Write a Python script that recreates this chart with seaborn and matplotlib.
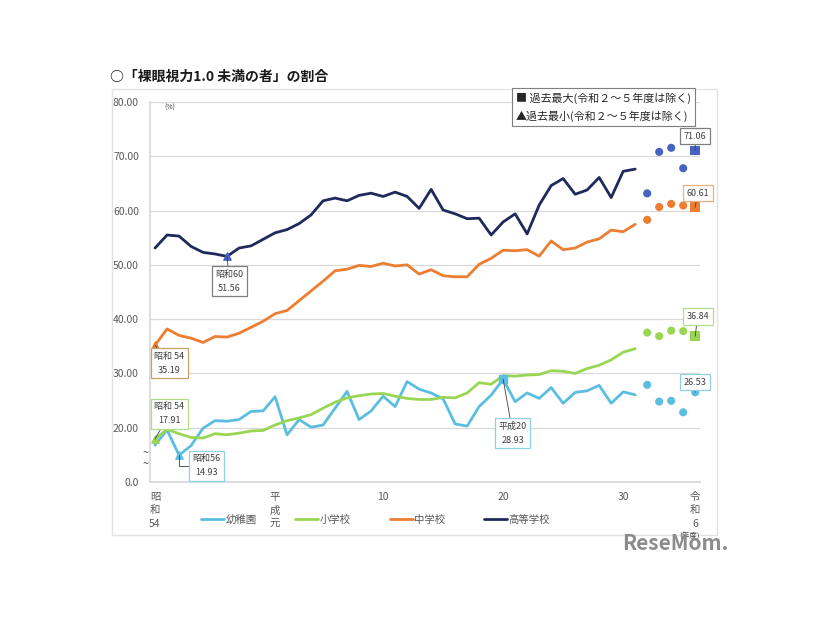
import seaborn as sns
import matplotlib.pyplot as plt
import pandas as pd
from matplotlib.patches import Rectangle

# 裸眼視力1.0未満の者の割合 (%)  昭和54(1979) ~ 令和元(2019)
years = list(range(1979, 2020))
kinder = [16.8, 19.6, 14.93, 16.7, 19.9, 21.3, 21.2, 21.5, 23.0, 23.1,
          25.7, 18.7, 21.5, 20.1, 20.5, 23.6, 26.7, 21.5, 23.1, 25.8,
          23.9, 28.5, 27.1, 26.4, 25.3, 20.7, 20.3, 23.9, 26.0, 28.93,
          24.8, 26.4, 25.4, 27.4, 24.5, 26.5, 26.8, 27.8, 24.5, 26.6, 26.06]
elem = [17.91, 19.7, 18.9, 18.2, 18.1, 18.9, 18.7, 19.0, 19.4, 19.5,
        20.5, 21.3, 21.8, 22.4, 23.6, 24.7, 25.5, 25.9, 26.2, 26.3,
        25.8, 25.4, 25.2, 25.2, 25.6, 25.5, 26.4, 28.3, 28.0, 29.6,
        29.5, 29.7, 29.8, 30.5, 30.4, 30.0, 30.9, 31.5, 32.5, 33.9, 34.57]
middle = [35.19, 38.2, 37.0, 36.5, 35.7, 36.8, 36.7, 37.4, 38.5, 39.6,
          41.0, 41.6, 43.4, 45.2, 47.0, 48.9, 49.2, 49.9, 49.7, 50.3,
          49.8, 50.0, 48.3, 49.1, 48.0, 47.8, 47.8, 50.1, 51.2, 52.7,
          52.6, 52.8, 51.6, 54.4, 52.8, 53.1, 54.2, 54.8, 56.4, 56.1, 57.47]
high = [53.1, 55.5, 55.3, 53.4, 52.3, 52.0, 51.56, 53.1, 53.5, 54.7,
        55.9, 56.5, 57.6, 59.2, 61.8, 62.3, 61.8, 62.8, 63.2, 62.6,
        63.4, 62.6, 60.4, 63.9, 60.1, 59.4, 58.5, 58.6, 55.5, 57.9,
        59.4, 55.7, 61.0, 64.6, 65.9, 63.0, 63.8, 66.1, 62.4, 67.23, 67.64]

# 令和2(2020) ~ 令和6(2024)
years_r = [2020, 2021, 2022, 2023, 2024]
kinder_r = [27.90, 24.81, 24.95, 22.84, 26.53]
elem_r = [37.52, 36.87, 37.88, 37.79, 36.84]
middle_r = [58.29, 60.66, 61.23, 60.93, 60.61]
high_r = [63.17, 70.81, 71.56, 67.80, 71.06]

schools = ['幼稚園', '小学校', '中学校', '高等学校']
line_colors = {'幼稚園': '#5bbde0', '小学校': '#99d654', '中学校': '#ed7d31', '高等学校': '#1f2a5c'}
dot_colors = {'幼稚園': '#5bbde0', '小学校': '#99d654', '中学校': '#ed7d31', '高等学校': '#4763c2'}

tick_pos = [1979, 1989, 1998, 2008, 2018, 2024]
tick_lab = ['昭\n和\n54', '平\n成\n元', '10', '20', '30', '令\n和\n6']

df = pd.DataFrame({'year': years * 4,
                   'value': kinder + elem + middle + high,
                   'school': sum([[s] * len(years) for s in schools], [])})
df_r = pd.DataFrame({'year': years_r * 4,
                     'value': kinder_r + elem_r + middle_r + high_r,
                     'school': sum([[s] * len(years_r) for s in schools], [])})

sns.set_theme(style='white')
plt.rcParams['font.family'] = ['Noto Sans CJK JP', 'DejaVu Sans']

fig = plt.figure(figsize=(8.26, 6.2), dpi=100)
ax = fig.add_axes([150 / 826, 1 - 482 / 620, 550 / 826, 380 / 620])

sns.lineplot(data=df, x='year', y='value', hue='school', hue_order=schools,
             palette=line_colors, linewidth=2.0, ax=ax)
# 令和2~5年度 (dots)
sns.scatterplot(data=df_r[df_r.year < 2024], x='year', y='value', hue='school',
                palette=dot_colors, s=34, edgecolor='none', legend=False, ax=ax)
# 令和6年度
last = df_r[df_r.year == 2024]
sns.scatterplot(data=last[last.school != '幼稚園'], x='year', y='value', hue='school',
                palette=dot_colors, marker='s', s=48, edgecolor='none', legend=False, ax=ax)
sns.scatterplot(data=last[last.school == '幼稚園'], x='year', y='value', hue='school',
                palette=dot_colors, s=34, edgecolor='none', legend=False, ax=ax)

# minimum / maximum markers on the lines
ax.scatter([1985], [high[6]], marker='^', s=28, color='#4763c2', zorder=5)
ax.scatter([1979], [middle[0]], marker='^', s=28, color='#ed7d31', zorder=5)
ax.scatter([1979], [elem[0]], marker='^', s=28, color='#99d654', zorder=5)
ax.scatter([1981], [kinder[2]], marker='^', s=28, color='#5bbde0', zorder=5)
ax.scatter([2008], [kinder[29]], marker='s', s=34, color='#5bbde0', zorder=5)

ax.set_xlim(1978.58, 2024.4)
ax.set_ylim(10, 80)
ax.set_yticks(range(10, 81, 10))
ax.set_yticklabels(['0.0'] + ['%.2f' % v for v in range(20, 81, 10)])
ax.set_xticks(tick_pos)
ax.set_xticklabels(tick_lab)
for t in ax.get_xticklabels():
    t.set_linespacing(1.45)
ax.tick_params(axis='both', length=0, labelsize=7.5, labelcolor='#595959')
ax.tick_params(axis='y', pad=8)
ax.tick_params(axis='x', pad=7)
ax.set_xlabel('')
ax.set_ylabel('')
ax.yaxis.grid(True, color='#d9d9d9', linewidth=0.9)
for side in ['top', 'right']:
    ax.spines[side].set_visible(False)
ax.spines['left'].set_color('#d9d9d9')
ax.spines['bottom'].set_color('#d9d9d9')

ax.text(1979.8, 78.6, '(%)', fontsize=5, color='#404040')
ax.text(1978.25, 15.3, '~', fontsize=8, color='#404040', ha='center', va='center', clip_on=False)
ax.text(1978.25, 13.3, '~', fontsize=8, color='#404040', ha='center', va='center', clip_on=False)


def label(txt, xy, xytext, ec, conn='arc3'):
    ax.annotate(txt, xy=xy, xytext=xytext, fontsize=6.5, color='#404040',
                ha='center', va='center', linespacing=1.7, annotation_clip=False,
                bbox=dict(boxstyle='square,pad=0.4', fc='white', ec=ec, lw=0.9),
                arrowprops=dict(arrowstyle='-', color='#404040', lw=0.6,
                                connectionstyle=conn, shrinkA=0, shrinkB=0),
                zorder=6)


label('昭和60\n51.56', (1985, 51.56), (1985.2, 47.0), '#7f7f7f')
label('昭和 54\n35.19', (1979, 35.19), (1980.2, 31.9), '#c9a26a')
label('昭和 54\n17.91', (1979, 17.91), (1980.2, 22.6), '#b5dc8a')
label('昭和56\n14.93', (1981, 14.93), (1983.3, 13.0), '#8fd0e8', 'angle,angleA=0,angleB=90')
label('平成20\n28.93', (2008, 28.93), (2008.8, 19.0), '#8fd0e8')
label('71.06', (2024, 71.06), (2024.0, 73.7), '#7f7f7f')
label('60.61', (2024, 60.61), (2024.2, 63.2), '#e8b07f')
label('36.84', (2024, 36.84), (2024.2, 40.5), '#b5dc8a')
label('26.53', (2024, 26.53), (2024.0, 28.4), '#8fd0e8')

sns.move_legend(ax, 'center', bbox_to_anchor=(0.41, -0.1), ncol=4, frameon=False,
                title=None, fontsize=7.5, handlelength=2.2, columnspacing=3.7,
                handletextpad=0.15)
for t in ax.get_legend().get_texts():
    t.set_color('#595959')

# upper legend
fig.text(516 / 826, 1 - 107 / 620, '■ 過去最大(令和２～５年度は除く)\n▲過去最小(令和２～５年度は除く)',
         fontsize=7.9, color='#262626', ha='left', va='center', linespacing=1.75,
         bbox=dict(boxstyle='square,pad=0.4', fc='white', ec='#7f7f7f', lw=0.8))

fig.text(110 / 826, 1 - 77 / 620, '○「裸眼視力1.0 未満の者」の割合', fontsize=10,
         fontweight='bold', color='#1a1a1a', ha='left', va='center')
fig.text(690 / 826, 1 - 537 / 620, '(年度)', fontsize=5.5, color='#404040', ha='center', va='center')

fig.patches.append(Rectangle((112 / 826, 1 - 535 / 620), 605 / 826, 446 / 620,
                             transform=fig.transFigure, fill=False, ec='#e3e3e3', lw=1))

fig.text(622 / 826, 1 - 543 / 620, 'ReseMom.', fontsize=15, fontweight='bold',
         color='#8c8c8c', ha='left', va='center')

fig.savefig('out.png', dpi=100)
